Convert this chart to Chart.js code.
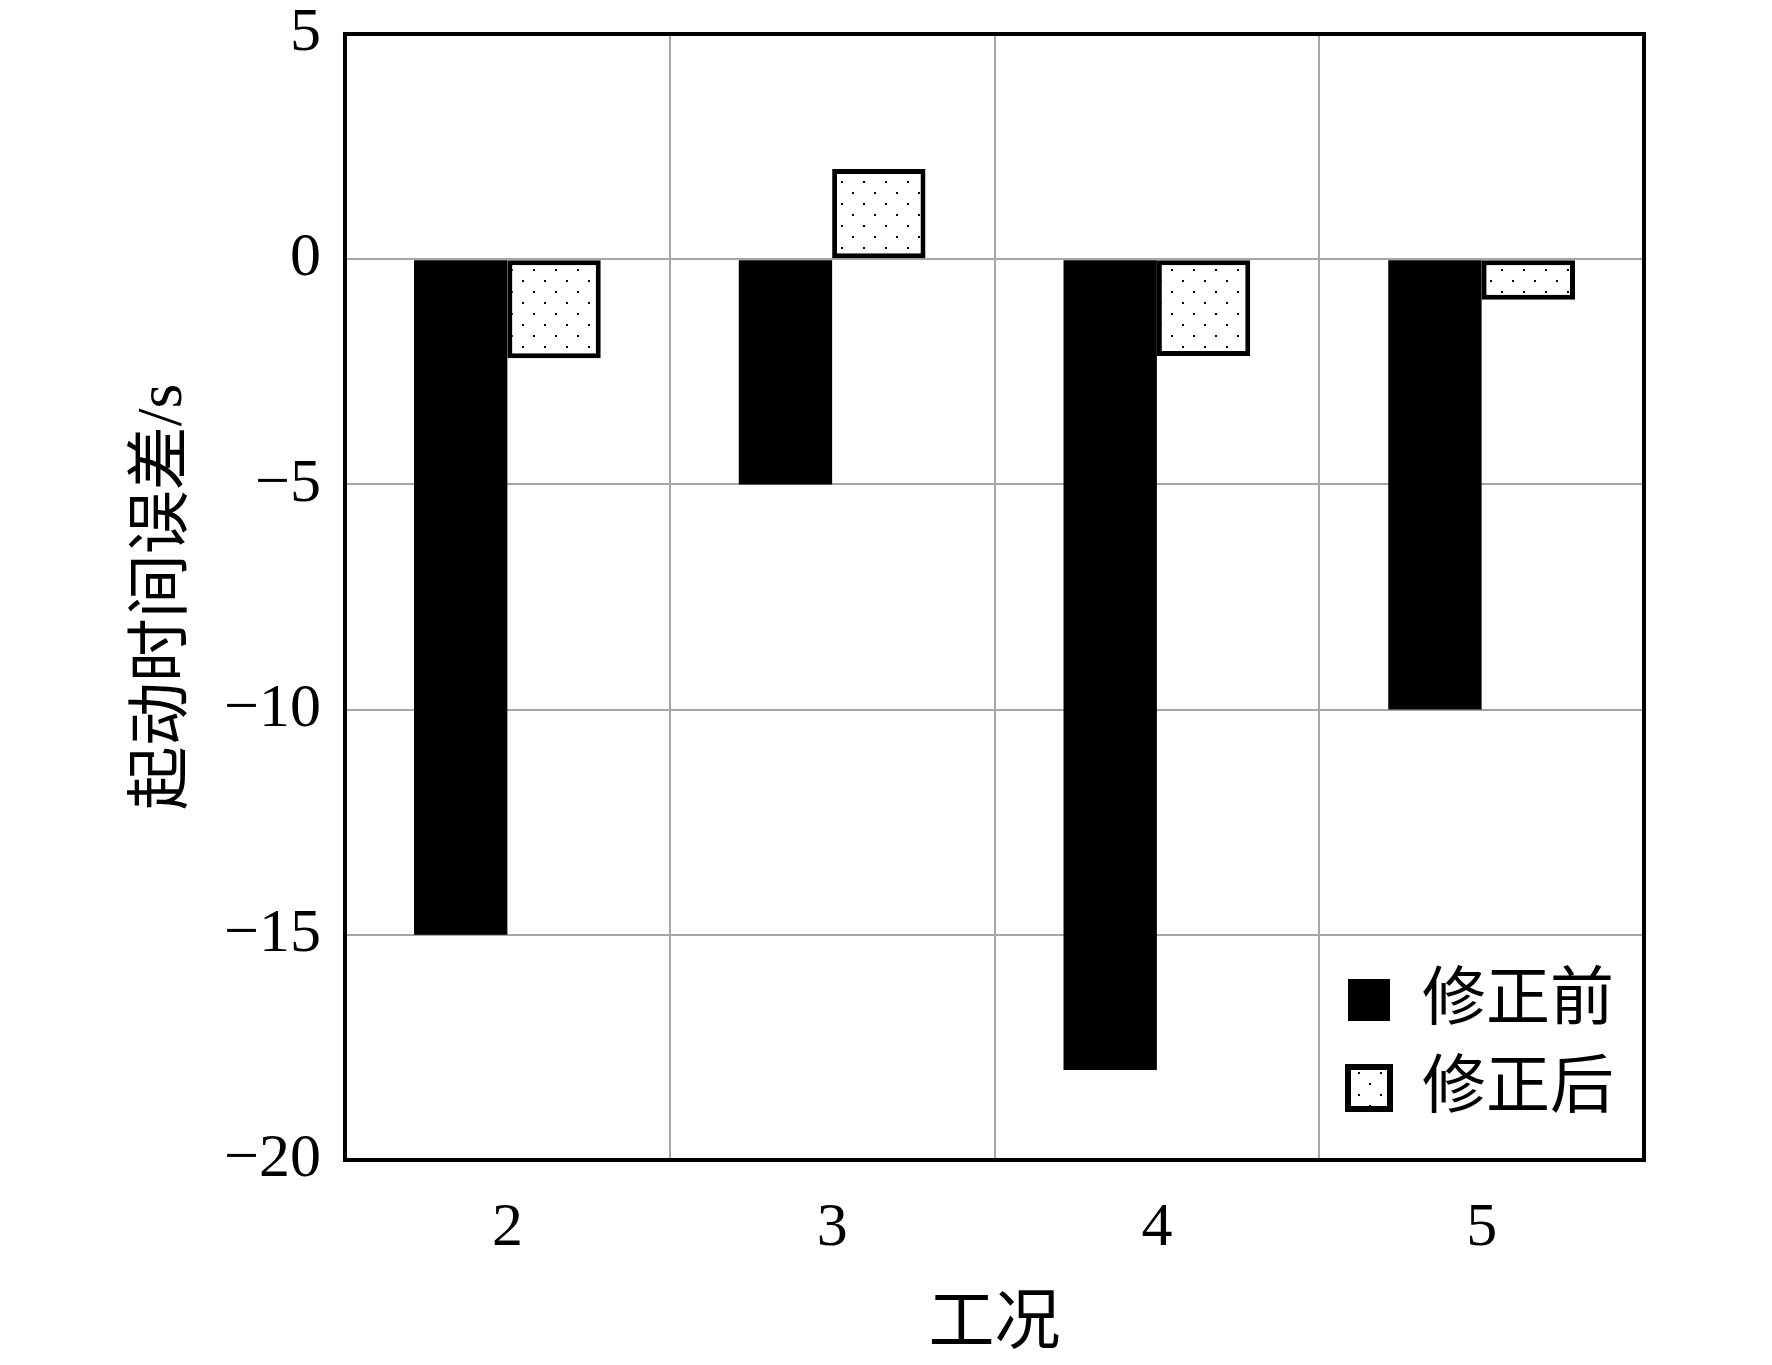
<!DOCTYPE html>
<html>
<head>
<meta charset="utf-8">
<script src="https://cdn.jsdelivr.net/npm/chart.js@4/dist/chart.umd.min.js"></script>
<style>
	html, body { margin: 0; padding: 0; background: #fff; }
	#wrap { width: 1772px; height: 1365px; }
</style>
</head>
<body>
<div id="wrap"><canvas id="chart" width="1772" height="1365"></canvas></div>
<script>
const categories = ["2", "3", "4", "5"];
const beforeValues = [-15, -5, -18, -10];
const afterValues = [-2.2, 2, -2.15, -0.9];
const seriesNames = ["修正前", "修正后"];
const yMin = -20;
const yMax = 5;
const yStep = 5;

const FONT = '"Liberation Serif", "Noto Sans CJK SC", serif';

// white tile with staggered black dots
function makeDots() {
	const c = document.createElement("canvas");
	c.width = 22;
	c.height = 22;
	const g = c.getContext("2d");
	g.fillStyle = "#fff";
	g.fillRect(0, 0, 22, 22);
	g.fillStyle = "#000";
	g.fillRect(5, 5, 2, 2);
	g.fillRect(16, 16, 2, 2);
	return c;
}

const ctx = document.getElementById("chart").getContext("2d");
const dots = ctx.createPattern(makeDots(), "repeat");

const frameAndLegend = {
	id: "frameAndLegend",
	afterDraw(chart) {
		const { ctx, chartArea } = chart;
		ctx.save();
		ctx.strokeStyle = "#000";
		ctx.lineWidth = 4;
		ctx.strokeRect(chartArea.left, chartArea.top,
			chartArea.right - chartArea.left, chartArea.bottom - chartArea.top);

		// legend inside plot, bottom right
		const boxX = chartArea.right - 296;
		const rows = [chartArea.bottom - 160, chartArea.bottom - 72];
		const size = 42;
		ctx.font = "64px " + FONT;
		ctx.textBaseline = "middle";
		ctx.textAlign = "left";
		chart.data.datasets.forEach((ds, i) => {
			const cy = rows[i];
			ctx.fillStyle = ds.backgroundColor;
			ctx.fillRect(boxX, cy - size / 2, size, size);
			if (ds.borderWidth) {
				ctx.lineWidth = 6;
				ctx.strokeStyle = "#000";
				ctx.strokeRect(boxX, cy - size / 2, size, size);
			}
			ctx.fillStyle = "#000";
			ctx.fillText(ds.label, boxX + 74, cy + 2);
		});
		ctx.restore();
	},
};

new Chart(ctx, {
	type: "bar",
	data: {
		labels: categories,
		datasets: [
			{
				label: seriesNames[0],
				data: beforeValues,
				backgroundColor: "#000",
				borderWidth: 0,
			},
			{
				label: seriesNames[1],
				data: afterValues,
				backgroundColor: dots,
				borderColor: "#000",
				borderWidth: 5,
				borderSkipped: false,
			},
		],
	},
	options: {
		responsive: false,
		animation: false,
		datasets: {
			bar: {
				barPercentage: 1,
				categoryPercentage: 0.575,
			},
		},
		layout: {
			padding: { top: 34, right: 128, bottom: 0, left: 126 },
		},
		plugins: {
			legend: { display: false },
			tooltip: { enabled: false },
		},
		scales: {
			x: {
				grid: {
					offset: true,
					color: "#a6a6a6",
					lineWidth: 2,
					drawTicks: false,
				},
				border: { color: "#000", width: 4 },
				ticks: {
					color: "#000",
					font: { family: FONT, size: 62 },
					padding: 32,
				},
				title: {
					display: true,
					text: "工况",
					color: "#000",
					font: { family: FONT, size: 66 },
					padding: { top: 0, bottom: 0 },
				},
				afterFit(scale) {
					scale.height = 1365 - 1160;
				},
			},
			y: {
				min: yMin,
				max: yMax,
				grid: {
					color: "#a6a6a6",
					lineWidth: 2,
					drawTicks: false,
				},
				border: { color: "#000", width: 4 },
				ticks: {
					stepSize: yStep,
					color: "#000",
					font: { family: FONT, size: 62 },
					padding: 24,
					callback: (v) => (v < 0 ? "\u2212" + Math.abs(v) : String(v)),
				},
				title: {
					display: true,
					text: "起动时间误差/s",
					color: "#000",
					font: { family: FONT, size: 64 },
					padding: { top: 0, bottom: 0 },
				},
				afterFit(scale) {
					scale.width = 345 - 126;
					scale.paddingTop = 0;
					scale.paddingBottom = 0;
				},
			},
		},
	},
	plugins: [frameAndLegend],
});
</script>
</body>
</html>
